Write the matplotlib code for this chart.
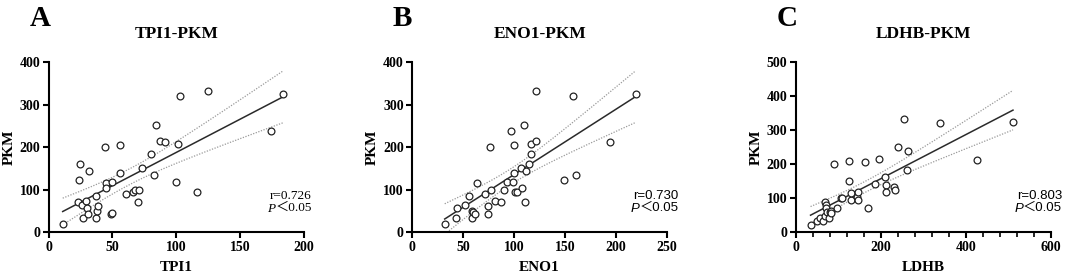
import numpy as np
import matplotlib
matplotlib.use("Agg")
import matplotlib.pyplot as plt


# -----------------------------
# Data
# -----------------------------
tpi1 = [11, 23, 23.5, 24.4, 26, 27, 29, 30, 31, 32, 37, 37, 38, 39, 44, 45, 45,
        49, 50, 50, 56, 56, 61, 66, 68, 71, 70, 73, 80, 82.5, 84, 87, 91, 100,
        101.6, 103, 116, 125, 174, 184]
pkm_a = [20, 70, 123, 161, 63, 33, 73, 58, 42, 144, 85, 33, 49, 61, 201, 115, 103,
         44, 46, 118, 206, 139, 90, 95, 99, 100, 70, 151, 184, 134, 252, 215, 213, 119,
         208, 321, 94, 333, 239, 325]

eno1 = [32, 42.6, 44.5, 52, 56, 58.5, 59, 59.5, 61.8, 63.4, 71.6, 74, 74.8, 77, 76.8,
        81, 87, 90, 92.8, 96.7, 99, 99.7, 100, 101, 103, 107, 108, 110, 110.8, 111.4,
        114.7, 117, 117, 121, 121, 149, 157.5, 161, 194, 219]
pkm_b = [20, 34, 58, 64, 85, 49, 33, 47, 42, 116, 91, 61, 44, 100, 201,
         73, 70, 100, 118, 239, 118, 206, 139, 95, 94, 151, 103, 252, 71, 143,
         161, 208, 184, 333, 215, 123, 321, 134, 213, 325]

ldhb = [35, 49, 58, 64, 69, 69, 70.6, 71, 74.5, 78, 81, 82, 83, 89, 97, 107, 109, 126,
        126, 129, 130, 144, 146, 147, 164, 171, 187, 196, 211, 213, 213, 232, 233,
        240, 255, 262, 264, 340, 427, 511]
pkm_c = [20, 33, 41, 33, 48, 89, 80, 70, 60, 41, 59, 62, 56, 201, 70, 100, 100, 208,
         151, 94, 116, 105, 117, 94, 205, 70, 143, 214, 161, 139, 119, 134, 123,
         251, 333, 183, 239, 321, 212, 325]

titles = ["TPI1-PKM", "ENO1-PKM", "LDHB-PKM"]
xlabels = ["TPI1", "ENO1", "LDHB"]
letters = ["A", "B", "C"]
r_labels = ["r=0.726", "r=0.730", "r=0.803"]
p_label = "\uff1c0.05"
xlims = [200, 250, 600]
ylims = [400, 400, 500]
xsteps = [50, 50, 200]

# -----------------------------
# Figure
# -----------------------------
fig = plt.figure(figsize=(10.65, 2.77), dpi=100)
lefts = [0.0457, 0.3869, 0.7471]
serif = "Liberation Serif"

xs_all = [tpi1, eno1, ldhb]
ys_all = [pkm_a, pkm_b, pkm_c]
rfonts = [[serif, "Noto Sans CJK SC"],
          ["Liberation Sans", "Noto Sans CJK SC"],
          ["Liberation Sans", "Noto Sans CJK SC"]]
text_right = [1.031, 1.043, 1.044]

for i in range(3):
    ax = fig.add_axes([lefts[i], 0.1614, 0.2396, 0.6146])
    x = np.array(xs_all[i], dtype=float)
    y = np.array(ys_all[i], dtype=float)

    # linear fit + 95% confidence band
    n = len(x)
    b, a = np.polyfit(x, y, 1)
    xx = np.linspace(x.min(), x.max(), 200)
    yy = a + b * xx
    resid = y - (a + b * x)
    s = np.sqrt(np.sum(resid ** 2) / (n - 2))
    se = s * np.sqrt(1 / n + (xx - x.mean()) ** 2 / np.sum((x - x.mean()) ** 2))
    t = 2.024
    ax.plot(xx, yy, color="#2a2a2a", lw=1.1, zorder=3)
    ax.plot(xx, yy + t * se, color="#9a9a9a", lw=0.9, ls=(0, (1, 1.2)), zorder=2)
    ax.plot(xx, yy - t * se, color="#9a9a9a", lw=0.9, ls=(0, (1, 1.2)), zorder=2)

    ax.scatter(x, y, s=24, facecolors="white", edgecolors="#222222",
               linewidths=0.9, zorder=4)

    ax.set_xlim(0, xlims[i])
    ax.set_ylim(0, ylims[i])
    ax.set_xticks(np.arange(0, xlims[i] + 1, xsteps[i]))
    ax.set_yticks(np.arange(0, ylims[i] + 1, 100))
    if i == 2:
        ax.set_xticks(np.arange(0, xlims[i] + 1, 40), minor=True)
        ax.tick_params(axis="x", which="minor", length=3.5, width=1.2, direction="out")

    for side in ["top", "right"]:
        ax.spines[side].set_visible(False)
    for side in ["left", "bottom"]:
        ax.spines[side].set_linewidth(1.5)
    ax.tick_params(axis="both", which="major", length=4, width=1.5,
                   direction="out", pad=2)
    for lab in ax.get_xticklabels() + ax.get_yticklabels():
        lab.set_fontfamily(serif)
        lab.set_fontweight("bold")
        lab.set_fontsize(10)

    ax.set_xlabel(xlabels[i], fontfamily=serif, fontweight="bold", fontsize=11, labelpad=5)
    ax.set_ylabel("PKM", fontfamily=serif, fontweight="bold", fontsize=11, labelpad=3)
    ax.set_title(titles[i], fontfamily=serif, fontweight="bold", fontsize=12.5, pad=17)

    # panel letter
    fig.text(lefts[i] - 0.018, 0.905, letters[i], fontfamily=serif,
             fontweight="bold", fontsize=21, ha="left", va="baseline")

    # statistics text
    ax.text(text_right[i], 0.196, r_labels[i], transform=ax.transAxes,
            ha="right", va="baseline", fontsize=9.5, family=rfonts[i])
    pt = ax.text(text_right[i], 0.125, p_label, transform=ax.transAxes,
                 ha="right", va="baseline", fontsize=9.5, family=rfonts[i])
    ax.annotate("P", xy=(0, 0.18), xycoords=pt, ha="right", va="baseline",
                fontsize=9.5, fontstyle="italic", family=rfonts[i])

fig.savefig("out.png", dpi=100)
